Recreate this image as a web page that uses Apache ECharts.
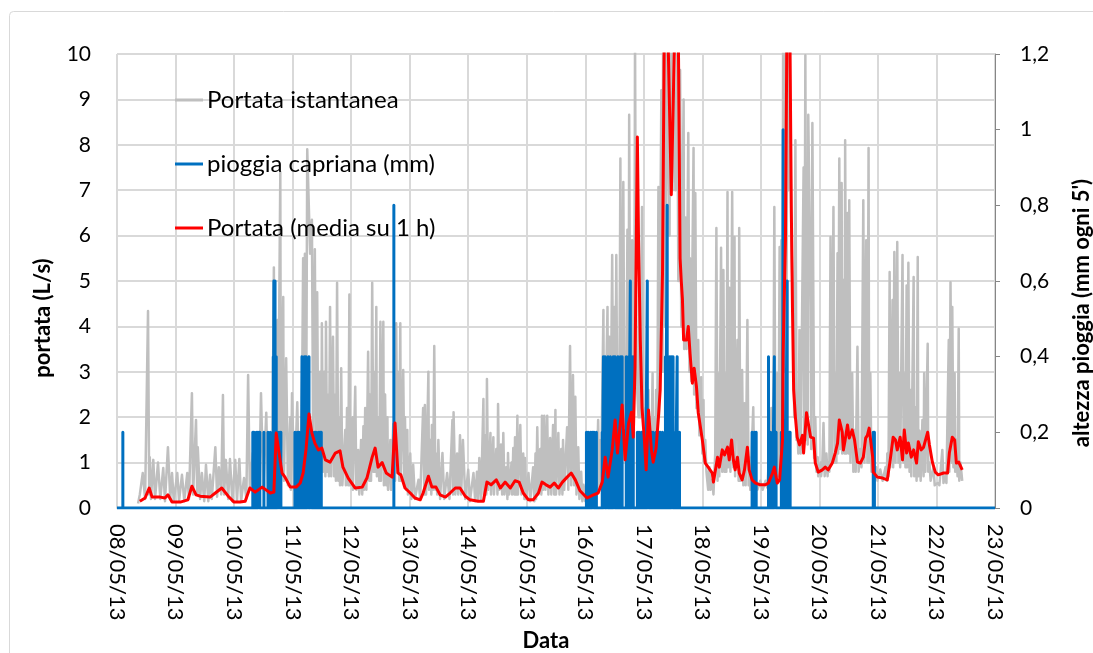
<!DOCTYPE html>
<html>
<head>
<meta charset="utf-8">
<script src="https://cdn.jsdelivr.net/npm/echarts@6/dist/echarts.min.js"></script>
<style>
  html, body { margin: 0; padding: 0; background: #ffffff; }
  #chart { width: 1093px; height: 653px; }
</style>
</head>
<body>
<div id="chart"></div>
<script>
// Day labels: x values are days elapsed since 08/05/13 00:00
const dateLabels = ['08/05/13', '09/05/13', '10/05/13', '11/05/13', '12/05/13', '13/05/13', '14/05/13', '15/05/13',
  '16/05/13', '17/05/13', '18/05/13', '19/05/13', '20/05/13', '21/05/13', '22/05/13', '23/05/13'];

// Instantaneous flow [day, L/s]
const portataIstantanea = [
  [0.36,0.1],[0.39,0.3],[0.44,0.77],[0.48,0.2],[0.53,4.34],[0.55,0.3],[0.56,1.12],[0.58,0.2],[0.62,1.06],[0.65,0.2],
  [0.70,1.0],[0.74,0.2],[0.79,0.88],[0.82,0.15],[0.87,1.34],[0.91,0.2],[0.94,0.77],[0.97,0.15],[1.03,0.77],[1.06,0.15],
  [1.11,0.73],[1.15,0.15],[1.20,0.77],[1.23,0.2],[1.28,2.53],[1.30,0.3],[1.35,1.94],[1.37,0.3],[1.38,1.34],[1.42,0.2],
  [1.45,0.77],[1.49,0.15],[1.52,0.95],[1.56,0.15],[1.59,0.73],[1.62,0.2],[1.68,1.34],[1.71,0.25],[1.74,0.9],[1.78,0.3],
  [1.81,2.49],[1.83,0.3],[1.86,1.06],[1.90,0.2],[1.93,1.08],[1.97,0.15],[2.02,1.06],[2.05,0.15],[2.09,1.08],[2.12,0.15],
  [2.17,0.66],[2.21,0.2],[2.24,2.93],[2.27,0.4],[2.32,1.21],[2.36,0.3],[2.39,1.6],[2.43,0.4],[2.46,2.53],[2.50,0.4],
  [2.55,2.1],[2.58,0.3],[2.62,1.5],[2.65,0.4],[2.68,5.3],[2.70,0.5],[2.74,4.14],[2.75,1.0],[2.79,7.4],[2.80,1.0],
  [2.84,4.65],[2.85,0.6],[2.89,3.3],[2.92,0.5],[2.96,2.0],[2.97,0.4],[2.99,2.53],[3.03,0.4],[3.08,2.33],[3.11,0.5],
  [3.13,1.5],[3.15,0.5],[3.18,5.5],[3.20,1.0],[3.21,5.6],[3.23,1.2],[3.25,7.9],[3.30,5.6],[3.33,6.35],[3.35,1.5],
  [3.38,5.7],[3.40,1.2],[3.42,4.75],[3.44,1.0],[3.47,3.0],[3.49,0.8],[3.50,4.07],[3.52,0.8],[3.54,3.0],[3.56,0.7],
  [3.57,4.1],[3.59,0.8],[3.61,2.5],[3.62,0.7],[3.64,4.43],[3.66,0.7],[3.69,3.77],[3.71,0.7],[3.73,2.5],[3.74,0.6],
  [3.76,4.96],[3.78,0.6],[3.79,2.0],[3.81,0.5],[3.83,3.08],[3.85,0.5],[3.90,1.72],[3.91,0.5],[3.93,2.2],[3.95,0.5],
  [3.97,4.7],[3.98,0.5],[4.02,2.0],[4.03,0.4],[4.07,2.67],[4.09,0.4],[4.12,1.28],[4.14,0.3],[4.17,1.5],[4.19,0.3],
  [4.21,1.8],[4.22,0.4],[4.24,2.2],[4.26,0.4],[4.29,3.44],[4.31,0.6],[4.32,2.5],[4.34,0.6],[4.36,4.96],[4.38,0.8],
  [4.39,3.0],[4.41,0.8],[4.43,4.43],[4.44,0.7],[4.46,2.0],[4.48,0.6],[4.50,4.1],[4.51,0.6],[4.55,4.1],[4.56,0.5],
  [4.58,2.5],[4.60,0.5],[4.62,2.0],[4.63,0.4],[4.67,1.5],[4.68,0.4],[4.72,1.85],[4.75,0.6],[4.77,4.07],[4.79,0.8],
  [4.80,3.0],[4.82,0.6],[4.84,4.07],[4.85,0.6],[4.89,3.04],[4.91,0.5],[4.92,2.0],[4.94,0.4],[4.96,1.72],[4.97,0.3],
  [5.01,1.2],[5.03,0.2],[5.06,0.95],[5.09,0.2],[5.15,0.62],[5.18,0.2],[5.23,2.2],[5.25,0.3],[5.26,2.27],[5.28,0.3],
  [5.32,3.0],[5.33,0.4],[5.35,1.5],[5.37,0.3],[5.38,1.83],[5.40,0.4],[5.42,3.57],[5.44,0.4],[5.45,1.2],[5.47,0.3],
  [5.49,1.5],[5.52,0.2],[5.56,1.21],[5.59,0.2],[5.64,0.77],[5.68,0.2],[5.73,1.94],[5.74,0.3],[5.75,2.11],[5.78,0.3],
  [5.81,1.2],[5.83,0.3],[5.86,1.6],[5.88,0.3],[5.91,1.5],[5.95,0.2],[6.00,0.84],[6.03,0.15],[6.09,0.77],[6.12,0.15],
  [6.15,0.8],[6.17,0.2],[6.19,1.1],[6.22,0.2],[6.26,2.4],[6.27,0.3],[6.29,1.6],[6.31,0.3],[6.32,2.84],[6.34,0.4],
  [6.38,1.65],[6.39,0.3],[6.43,1.56],[6.44,0.3],[6.48,1.3],[6.50,0.3],[6.51,2.29],[6.53,0.4],[6.56,1.4],[6.58,0.3],
  [6.60,1.65],[6.62,0.3],[6.65,0.9],[6.67,0.2],[6.68,1.21],[6.70,0.3],[6.74,1.0],[6.75,0.3],[6.77,1.32],[6.79,0.3],
  [6.80,1.56],[6.82,0.3],[6.84,2.03],[6.85,0.3],[6.89,1.83],[6.91,0.3],[6.94,1.2],[6.96,0.2],[6.97,1.1],[6.99,0.2],
  [7.03,0.77],[7.06,0.15],[7.11,0.9],[7.13,0.15],[7.15,1.2],[7.16,0.2],[7.18,1.78],[7.20,0.3],[7.23,1.3],[7.25,0.3],
  [7.26,2.03],[7.28,0.4],[7.30,2.03],[7.32,0.4],[7.35,2.03],[7.37,0.3],[7.40,1.54],[7.42,0.3],[7.45,1.83],[7.47,0.3],
  [7.49,2.16],[7.50,0.3],[7.54,1.65],[7.56,0.3],[7.59,1.3],[7.61,0.3],[7.62,1.5],[7.64,0.4],[7.69,1.78],[7.71,0.4],
  [7.74,3.57],[7.76,0.5],[7.79,2.93],[7.81,0.5],[7.83,2.45],[7.85,0.3],[7.88,1.34],[7.90,0.2],[7.93,0.8],[7.95,0.15],
  [7.97,0.51],[8.00,0.15],[8.03,0.77],[8.05,0.15],[8.09,0.4],[8.12,1.34],[8.14,0.2],[8.17,1.21],[8.19,0.3],[8.22,1.94],
  [8.24,0.4],[8.26,1.5],[8.27,0.5],[8.31,4.36],[8.32,0.8],[8.36,2.97],[8.38,4.43],[8.39,1.0],[8.41,3.77],[8.43,1.2],
  [8.46,5.57],[8.48,1.2],[8.50,4.43],[8.51,1.2],[8.53,5.57],[8.55,1.4],[8.56,2.97],[8.58,1.5],[8.60,7.7],[8.62,1.5],
  [8.65,7.18],[8.67,1.8],[8.68,3.1],[8.70,1.8],[8.72,6.13],[8.74,2.0],[8.75,8.66],[8.77,2.0],[8.80,5.9],[8.82,2.0],
  [8.84,4.03],[8.85,10.5],[8.87,3.0],[8.89,2.97],[8.91,2.0],[8.92,4.96],[8.94,2.0],[8.97,6.63],[8.99,1.8],[9.03,2.2],
  [9.04,1.2],[9.08,2.6],[9.09,1.3],[9.11,2.0],[9.13,1.2],[9.15,2.97],[9.16,1.2],[9.18,2.0],[9.20,1.2],[9.21,2.6],
  [9.23,1.5],[9.25,7.07],[9.26,2.0],[9.30,9.2],[9.32,3.0],[9.33,10.5],[9.35,4.0],[9.37,10.5],[9.38,6.0],[9.40,10.5],
  [9.44,6.0],[9.45,10.5],[9.49,7.0],[9.50,10.5],[9.54,7.0],[9.57,10.5],[9.59,5.0],[9.62,9.65],[9.64,4.0],[9.68,9.0],
  [9.69,3.5],[9.71,6.4],[9.73,3.5],[9.76,8.26],[9.78,3.0],[9.79,5.5],[9.81,2.8],[9.85,7.93],[9.86,2.5],[9.88,6.94],
  [9.90,2.2],[9.93,3.7],[9.95,1.6],[9.98,2.88],[10.00,1.2],[10.02,2.38],[10.03,1.0],[10.05,1.5],[10.07,0.8],[10.09,0.77],
  [10.10,0.4],[10.12,0.9],[10.14,0.4],[10.17,0.62],[10.19,0.3],[10.22,1.2],[10.24,6.17],[10.26,0.6],[10.27,2.97],[10.29,0.7],
  [10.32,5.73],[10.34,0.8],[10.36,5.24],[10.38,0.8],[10.39,2.97],[10.41,0.8],[10.43,6.96],[10.44,0.9],[10.46,4.85],[10.48,0.8],
  [10.51,6.96],[10.53,0.9],[10.55,5.97],[10.56,0.7],[10.60,3.7],[10.62,0.6],[10.63,6.17],[10.65,0.6],[10.68,3.04],[10.70,0.5],
  [10.72,2.31],[10.74,0.5],[10.77,4.14],[10.79,0.5],[10.80,1.12],[10.82,0.4],[10.87,2.22],[10.89,0.4],[10.91,0.6],[10.94,0.4],
  [10.99,0.6],[11.03,0.4],[11.08,0.6],[11.11,0.45],[11.13,0.9],[11.16,0.5],[11.18,2.2],[11.20,1.5],[11.21,0.6],[11.23,6.63],
  [11.25,0.7],[11.28,2.97],[11.30,0.7],[11.32,5.75],[11.33,0.8],[11.35,5.9],[11.37,1.0],[11.38,10.5],[11.40,3.0],[11.42,10.5],
  [11.44,5.0],[11.45,10.5],[11.47,7.0],[11.49,10.5],[11.52,6.0],[11.56,3.7],[11.57,2.0],[11.59,8.1],[11.61,1.5],[11.62,1.87],
  [11.64,1.2],[11.66,3.92],[11.68,1.2],[11.71,1.2],[11.73,7.5],[11.74,1.5],[11.76,9.97],[11.78,1.5],[11.79,7.6],[11.80,1.4],
  [11.81,8.66],[11.85,4.43],[11.86,1.3],[11.88,8.48],[11.90,3.88],[11.91,1.1],[11.93,2.0],[11.95,0.8],[11.97,1.12],[11.98,0.7],
  [12.02,1.0],[12.03,0.7],[12.05,0.99],[12.07,1.87],[12.09,0.7],[12.12,1.2],[12.14,0.7],[12.15,1.0],[12.17,0.8],[12.19,5.97],
  [12.21,1.0],[12.24,6.63],[12.26,1.0],[12.27,2.97],[12.29,1.0],[12.31,5.61],[12.32,1.2],[12.34,7.7],[12.36,1.3],[12.38,7.16],
  [12.39,1.2],[12.41,5.02],[12.43,1.2],[12.44,8.1],[12.46,1.2],[12.48,6.5],[12.50,1.2],[12.51,6.78],[12.53,1.0],[12.56,2.97],
  [12.58,0.8],[12.60,1.72],[12.62,0.8],[12.65,3.55],[12.67,0.8],[12.70,1.3],[12.72,0.9],[12.75,6.78],[12.77,1.0],[12.80,5.9],
  [12.82,1.0],[12.84,7.93],[12.85,1.0],[12.87,2.97],[12.89,0.8],[12.92,1.28],[12.94,0.6],[12.97,0.9],[12.99,0.6],[13.04,0.85],
  [13.08,0.6],[13.13,0.9],[13.15,0.6],[13.16,1.2],[13.18,0.7],[13.20,5.2],[13.21,0.9],[13.25,4.58],[13.26,0.9],[13.28,5.64],
  [13.30,1.0],[13.33,5.86],[13.35,1.0],[13.37,2.97],[13.38,0.9],[13.42,5.57],[13.44,1.0],[13.45,2.97],[13.47,0.9],[13.49,4.9],
  [13.50,0.9],[13.52,5.4],[13.54,0.8],[13.56,2.6],[13.57,0.7],[13.61,5.09],[13.62,0.7],[13.64,2.22],[13.66,0.6],[13.68,5.53],
  [13.69,0.7],[13.71,1.7],[13.73,0.6],[13.76,1.94],[13.78,0.7],[13.79,2.97],[13.81,0.8],[13.85,3.62],[13.86,0.8],[13.88,1.0],
  [13.90,0.6],[13.95,0.9],[13.97,0.5],[14.02,0.55],[14.05,0.5],[14.10,1.28],[14.12,0.55],[14.15,0.7],[14.17,0.55],[14.21,3.7],
  [14.22,0.8],[14.24,4.97],[14.26,1.0],[14.27,4.43],[14.29,0.9],[14.31,2.97],[14.32,0.8],[14.34,1.5],[14.36,0.7],[14.38,3.95],
  [14.39,0.6],[14.41,1.0],[14.44,0.6]
];

// Hourly mean flow [day, L/s]
const portataMedia1h = [
  [0.39,0.15],[0.48,0.22],[0.55,0.44],[0.60,0.24],[0.74,0.24],[0.82,0.22],[0.87,0.29],[0.94,0.13],[1.08,0.13],[1.21,0.18],
  [1.28,0.48],[1.35,0.29],[1.42,0.26],[1.59,0.24],[1.68,0.33],[1.79,0.44],[1.90,0.26],[2.00,0.13],[2.10,0.13],[2.19,0.15],
  [2.27,0.44],[2.36,0.35],[2.48,0.46],[2.62,0.33],[2.68,0.35],[2.72,1.65],[2.77,1.20],[2.82,0.77],[2.87,0.68],[2.96,0.46],
  [3.06,0.46],[3.13,0.55],[3.18,0.77],[3.23,1.30],[3.28,2.07],[3.33,1.65],[3.38,1.43],[3.44,1.28],[3.50,1.32],[3.56,1.06],
  [3.64,1.01],[3.73,1.21],[3.81,1.26],[3.86,0.90],[3.95,0.66],[4.07,0.44],[4.19,0.46],[4.27,0.66],[4.36,1.12],[4.41,1.32],
  [4.46,0.90],[4.53,1.00],[4.60,0.77],[4.70,0.68],[4.75,1.87],[4.80,0.77],[4.85,0.73],[4.92,0.44],[5.01,0.33],[5.09,0.22],
  [5.18,0.18],[5.23,0.33],[5.32,0.70],[5.38,0.46],[5.45,0.46],[5.52,0.29],[5.61,0.24],[5.69,0.33],[5.78,0.44],[5.86,0.44],
  [5.95,0.26],[6.03,0.18],[6.17,0.15],[6.26,0.15],[6.32,0.57],[6.39,0.51],[6.48,0.62],[6.55,0.44],[6.63,0.57],[6.72,0.44],
  [6.80,0.60],[6.87,0.57],[6.94,0.33],[7.03,0.18],[7.11,0.18],[7.20,0.33],[7.26,0.57],[7.33,0.51],[7.40,0.46],[7.47,0.55],
  [7.54,0.44],[7.61,0.57],[7.69,0.68],[7.76,0.77],[7.83,0.62],[7.91,0.38],[8.03,0.22],[8.14,0.29],[8.22,0.33],[8.29,0.57],
  [8.34,1.12],[8.39,0.68],[8.46,1.28],[8.51,1.94],[8.55,1.21],[8.63,2.27],[8.68,1.06],[8.74,1.87],[8.79,2.11],[8.82,1.56],
  [8.85,3.1],[8.89,8.17],[8.91,5.9],[8.94,3.7],[8.97,2.2],[9.01,1.5],[9.04,0.84],[9.08,2.16],[9.13,1.28],[9.16,1.01],
  [9.21,1.32],[9.25,2.0],[9.28,2.6],[9.32,5.2],[9.35,10.5],[9.38,11.5],[9.42,10.0],[9.47,6.9],[9.52,10.0],[9.56,11.5],
  [9.59,10.5],[9.62,5.5],[9.64,5.0],[9.66,4.6],[9.68,3.7],[9.73,3.7],[9.76,4.0],[9.79,3.4],[9.83,2.75],[9.86,3.08],
  [9.90,2.67],[9.93,2.1],[10.00,1.5],[10.05,0.99],[10.10,0.90],[10.17,0.77],[10.19,0.57],[10.26,1.12],[10.29,0.90],[10.34,1.28],
  [10.38,1.17],[10.43,1.34],[10.46,1.06],[10.50,1.50],[10.53,1.06],[10.56,0.84],[10.60,1.12],[10.63,0.77],[10.68,0.62],[10.72,0.84],
  [10.77,1.34],[10.80,0.84],[10.85,0.62],[10.91,0.55],[10.99,0.51],[11.08,0.51],[11.13,0.55],[11.20,0.77],[11.23,0.90],[11.28,0.55],
  [11.32,0.62],[11.37,1.5],[11.38,3.4],[11.42,5.9],[11.45,11.5],[11.49,11.5],[11.52,6.6],[11.54,4.4],[11.56,2.6],[11.59,2.0],
  [11.62,1.56],[11.66,1.39],[11.71,1.60],[11.73,1.21],[11.78,2.1],[11.81,2.11],[11.85,1.56],[11.90,1.54],[11.93,0.99],[11.98,0.79],
  [12.05,0.84],[12.10,0.90],[12.15,0.84],[12.22,0.99],[12.27,1.21],[12.31,1.43],[12.34,1.94],[12.39,1.67],[12.41,1.28],[12.44,1.5],
  [12.48,1.83],[12.51,1.54],[12.56,1.72],[12.60,1.5],[12.65,1.01],[12.70,0.99],[12.75,1.12],[12.79,1.54],[12.82,1.6],[12.85,1.76],
  [12.91,1.12],[12.92,0.79],[12.99,0.68],[13.08,0.66],[13.16,0.62],[13.21,1.06],[13.26,1.56],[13.30,1.5],[13.33,1.28],[13.38,1.56],
  [13.42,1.06],[13.45,1.72],[13.49,1.21],[13.52,1.43],[13.57,1.12],[13.61,1.28],[13.66,0.99],[13.69,1.46],[13.74,1.28],[13.78,1.34],
  [13.85,1.67],[13.88,1.39],[13.93,1.01],[13.98,0.79],[14.03,0.73],[14.12,0.77],[14.19,0.77],[14.22,1.21],[14.27,1.56],[14.31,1.5],
  [14.34,0.99],[14.38,1.01],[14.44,0.84]
];

// Rain gauge readings (5-minute totals, mm); every other 5-minute step is 0
const pioggiaCapriana = [
  [0.10,0.2],
  [2.32,0.2],[2.34,0.2],[2.38,0.2],[2.41,0.2],[2.44,0.2],[2.51,0.2],[2.58,0.2],[2.62,0.2],
  [2.67,0.4],[2.68,0.6],[2.70,0.6],[2.72,0.4],[2.74,0.2],[2.77,0.2],[2.80,0.2],
  [3.04,0.2],[3.08,0.2],[3.11,0.2],[3.15,0.2],[3.16,0.4],[3.20,0.4],[3.23,0.4],[3.25,0.2],[3.28,0.4],[3.30,0.2],
  [3.33,0.2],[3.37,0.2],[3.40,0.2],[3.44,0.2],[3.47,0.2],[3.49,0.2],
  [4.73,0.8],
  [8.02,0.2],[8.05,0.2],[8.09,0.2],[8.12,0.2],[8.15,0.2],[8.19,0.2],
  [8.29,0.2],[8.31,0.4],[8.34,0.4],[8.36,0.2],[8.39,0.4],[8.43,0.4],[8.46,0.2],[8.48,0.4],[8.51,0.4],[8.55,0.2],
  [8.56,0.4],[8.60,0.4],[8.63,0.4],
  [8.70,0.4],[8.74,0.4],[8.77,0.6],[8.79,0.4],[8.82,0.4],
  [8.89,0.2],[8.92,0.2],[8.96,0.2],[8.99,0.2],[9.03,0.2],[9.06,0.6],[9.09,0.2],[9.13,0.2],[9.16,0.2],[9.21,0.2],
  [9.25,0.2],[9.28,0.2],[9.32,0.2],
  [9.37,0.4],[9.40,0.8],[9.44,0.4],[9.47,0.4],[9.50,0.4],[9.54,0.2],[9.57,0.4],[9.61,0.2],
  [10.85,0.2],[10.89,0.2],[10.92,0.2],
  [11.13,0.4],[11.16,0.2],[11.20,0.2],[11.23,0.4],[11.26,0.2],
  [11.35,0.2],[11.37,0.2],[11.38,1.0],[11.42,0.2],[11.45,0.6],[11.49,0.2],[11.50,0.2],
  [12.92,0.2],[12.94,0.2]
];

// Rain record as a continuous line: zero between readings, a spike at each reading
const rainLine = [[0, 0]];
pioggiaCapriana.forEach(function (r) {
  rainLine.push([r[0], 0], [r[0], r[1]], [r[0], 0]);
});
rainLine.push([15, 0]);

const FONT = 'Lato';
const chart = echarts.init(document.getElementById('chart'), null, { renderer: 'canvas' });

chart.setOption({
  animation: false,
  backgroundColor: '#ffffff',
  grid: { left: 117, right: 98, top: 54, bottom: 145, containLabel: false },
  legend: {
    orient: 'vertical',
    left: 175,
    top: 86,
    padding: 0,
    itemWidth: 28,
    itemHeight: 3,
    itemGap: 36,
    icon: 'rect',
    textStyle: { fontFamily: FONT, fontSize: 24, lineHeight: 28, color: '#000000', padding: [0, 0, 0, -1] },
    data: ['Portata istantanea', 'pioggia capriana (mm)', 'Portata (media su 1 h)']
  },
  xAxis: {
    type: 'value',
    min: 0,
    max: 15,
    interval: 1,
    axisLine: { show: true, lineStyle: { color: '#bfbfbf', width: 1 } },
    axisTick: { show: false },
    splitLine: { show: true, lineStyle: { color: '#d9d9d9', width: 2 } },
    axisLabel: {
      rotate: -90,
      margin: 16,
      fontFamily: FONT,
      fontSize: 22,
      color: '#000000',
      formatter: function (v) { return dateLabels[Math.round(v)]; }
    }
  },
  yAxis: [
    {
      type: 'value',
      min: 0,
      max: 10,
      interval: 1,
      axisLine: { show: false },
      axisTick: { show: false },
      splitLine: { show: true, lineStyle: { color: '#d9d9d9', width: 2 } },
      axisLabel: { margin: 26, fontFamily: FONT, fontSize: 21, color: '#000000' }
    },
    {
      type: 'value',
      position: 'right',
      min: 0,
      max: 1.2,
      interval: 0.2,
      axisLine: { show: true, lineStyle: { color: '#868686', width: 1 } },
      axisTick: { show: true, inside: false, length: 5, lineStyle: { color: '#868686' } },
      splitLine: { show: false },
      axisLabel: {
        margin: 25,
        fontFamily: FONT,
        fontSize: 21,
        color: '#000000',
        formatter: function (v) { return String(Math.round(v * 10) / 10).replace('.', ','); }
      }
    }
  ],
  graphic: [
    {
      type: 'rect',
      silent: true,
      z: -10,
      shape: { x: 9.5, y: 11.5, width: 1100, height: 700, r: 4 },
      style: { fill: null, stroke: '#d9d9d9', lineWidth: 1 }
    },
    {
      type: 'text',
      x: 43, y: 318,
      rotation: Math.PI / 2,
      style: { text: 'portata (L/s)', font: 'bold 22px Lato', fill: '#000000', align: 'center', verticalAlign: 'middle' }
    },
    {
      type: 'text',
      x: 1082, y: 313,
      rotation: Math.PI / 2,
      style: { text: "altezza pioggia (mm ogni 5')", font: 'bold 22px Lato', fill: '#000000', align: 'center', verticalAlign: 'middle' }
    },
    {
      type: 'text',
      x: 546, y: 641,
      style: { text: 'Data', font: 'bold 22px Lato', fill: '#000000', align: 'center', verticalAlign: 'middle' }
    }
  ],
  series: [
    {
      name: 'Portata istantanea',
      type: 'line',
      data: portataIstantanea,
      symbol: 'none',
      showSymbol: false,
      z: 2,
      itemStyle: { color: '#bfbfbf' },
      lineStyle: { color: '#bfbfbf', width: 2.5, join: 'round' }
    },
    {
      name: 'pioggia capriana (mm)',
      type: 'line',
      yAxisIndex: 1,
      data: rainLine,
      symbol: 'none',
      showSymbol: false,
      z: 3,
      itemStyle: { color: '#0070c0' },
      lineStyle: { color: '#0070c0', width: 3, join: 'round' }
    },
    {
      name: 'Portata (media su 1 h)',
      type: 'line',
      data: portataMedia1h,
      symbol: 'none',
      showSymbol: false,
      z: 4,
      itemStyle: { color: '#ff0000' },
      lineStyle: { color: '#ff0000', width: 3, join: 'round' }
    }
  ]
});
</script>
</body>
</html>
